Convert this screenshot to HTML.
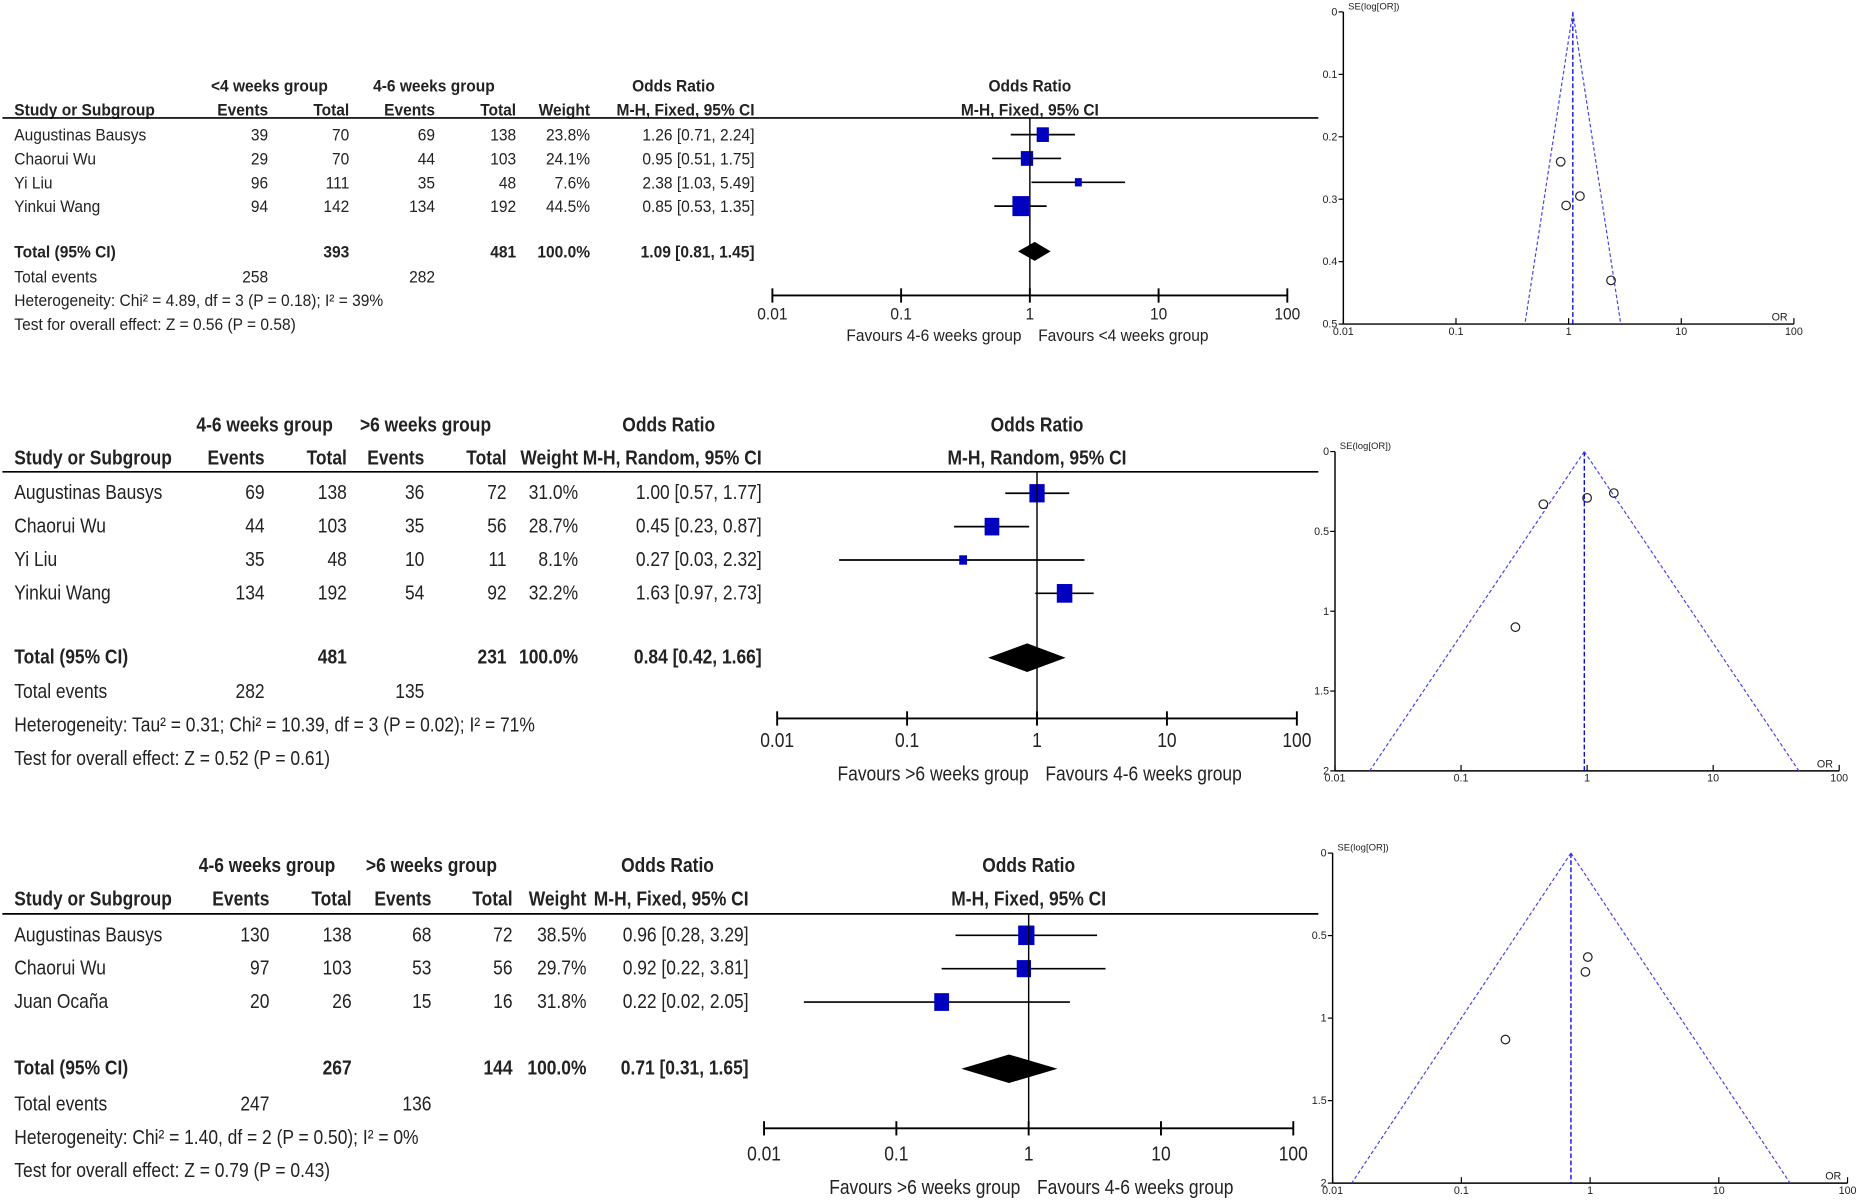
<!DOCTYPE html>
<html><head><meta charset="utf-8"><style>
html,body{margin:0;padding:0;background:#fff;}
svg{display:block;}
text{font-family:"Liberation Sans Narrow","Liberation Sans",sans-serif;fill:#222;}
</style></head><body>
<svg id="fig" width="1869" height="1201" viewBox="0 0 1568 1008" preserveAspectRatio="none" xmlns="http://www.w3.org/2000/svg"></svg>
<script>
// ---- Panel 1 data ----
const p1Studies=["Augustinas Bausys","Chaorui Wu","Yi Liu","Yinkui Wang"];
const p1Ev1=[39,29,96,94];
const p1Tot1=[70,70,111,142];
const p1Ev2=[69,44,35,134];
const p1Tot2=[138,103,48,192];
const p1Weight=[23.8,24.1,7.6,44.5];
const p1OR=[1.26,0.95,2.38,0.85];
const p1Lo=[0.71,0.51,1.03,0.53];
const p1Hi=[2.24,1.75,5.49,1.35];
const p1TotalCI=[1.09,0.81,1.45];
const p1Totals=[393,481];
const p1Events=[258,282];
const p1SE=[0.295,0.31,0.43,0.24];
// ---- Panel 2 data ----
const p2Studies=["Augustinas Bausys","Chaorui Wu","Yi Liu","Yinkui Wang"];
const p2Ev1=[69,44,35,134];
const p2Tot1=[138,103,48,192];
const p2Ev2=[36,35,10,54];
const p2Tot2=[72,56,11,92];
const p2Weight=[31.0,28.7,8.1,32.2];
const p2OR=[1.00,0.45,0.27,1.63];
const p2Lo=[0.57,0.23,0.03,0.97];
const p2Hi=[1.77,0.87,2.32,2.73];
const p2TotalCI=[0.84,0.42,1.66];
const p2Totals=[481,231];
const p2Events=[282,135];
const p2SE=[0.29,0.33,1.1,0.26];
// ---- Panel 3 data ----
const p3Studies=["Augustinas Bausys","Chaorui Wu","Juan Ocaña"];
const p3Ev1=[130,97,20];
const p3Tot1=[138,103,26];
const p3Ev2=[68,53,15];
const p3Tot2=[72,56,16];
const p3Weight=[38.5,29.7,31.8];
const p3OR=[0.96,0.92,0.22];
const p3Lo=[0.28,0.22,0.02];
const p3Hi=[3.29,3.81,2.05];
const p3TotalCI=[0.71,0.31,1.65];
const p3Totals=[267,144];
const p3Events=[247,136];
const p3SE=[0.63,0.72,1.13];
const orTicks=["0.01","0.1","1","10","100"];
const funnelCenters=[1.09,0.95,0.71];
const se1Ticks=[0,0.1,0.2,0.3,0.4,0.5];
const se2Ticks=[0,0.5,1,1.5,2];

const NS="http://www.w3.org/2000/svg";
const svg=document.getElementById('fig');
function el(tag,attrs,parent){const e=document.createElementNS(NS,tag);for(const k in attrs)e.setAttribute(k,attrs[k]);(parent||svg).appendChild(e);return e;}
function txt(s,x,y,size,anchor,weight,parent,sx){
  const t=el('text',{x:0,y:0,'font-size':size,'text-anchor':anchor||'start','font-weight':weight||'normal',
    transform:`translate(${x},${y}) scale(${sx||1},1)`},parent);
  t.textContent=s;return t;}

function panel(cfg,d){
  const g=el('g',{});
  
  
  const fs=cfg.fs, c=cfg.cols, sx=cfg.sx;
  const T=(s,x,y,a,w,p)=>txt(s,x,y,fs,a,w,p||g,sx);
  const h1=T(cfg.g1,c.g1,cfg.yG,'middle','bold');
  
  const h2=T(cfg.g2,c.g2,cfg.yG,'middle','bold');
  
  T('Odds Ratio',c.orh,cfg.yG,'middle','bold');
  T('Odds Ratio',cfg.fx(1),cfg.yG,'middle','bold');
  T('Study or Subgroup',12,cfg.yH,'start','bold');
  T('Events',c.e1,cfg.yH,'end','bold');
  T('Total',c.t1,cfg.yH,'end','bold');
  T('Events',c.e2,cfg.yH,'end','bold');
  T('Total',c.t2,cfg.yH,'end','bold');
  T('Weight',c.w,cfg.yH,'end','bold');
  T(cfg.method,c.ci,cfg.yH,'end','bold');
  T(cfg.method,cfg.fx(1),cfg.yH,'middle','bold');
  const hl=el('line',{x1:2,x2:1106,y1:cfg.yLine,y2:cfg.yLine,stroke:'#000','stroke-width':1.4},g);
  
  const f2=v=>v.toFixed(2);
  d.studies.forEach((s,i)=>{
    const y=cfg.yRow0+i*cfg.dRow;
    const r=el('g',{},g);
    
    
    T(s,12,y,'start','normal',r);
    T(String(d.ev1[i]),c.e1,y,'end','normal',r);
    T(String(d.tot1[i]),c.t1,y,'end','normal',r);
    T(String(d.ev2[i]),c.e2,y,'end','normal',r);
    T(String(d.tot2[i]),c.t2,y,'end','normal',r);
    T(d.w[i].toFixed(1)+'%',c.w,y,'end','normal',r);
    T(f2(d.or[i])+' ['+f2(d.lo[i])+', '+f2(d.hi[i])+']',c.ci,y,'end','normal',r);
    const my=y-5;
    const ci=el('line',{x1:cfg.fx(d.lo[i]),x2:cfg.fx(d.hi[i]),y1:my,y2:my,stroke:'#000','stroke-width':1.4},g);
    
    const sz=Math.sqrt(d.w[i])*cfg.sq;
    const sq=el('rect',{x:cfg.fx(d.or[i])-sz/2,y:my-sz*0.6,width:sz,height:sz*1.2,fill:'#0000c0'},g);
    
  });
  const yt=cfg.yTot;
  T('Total (95% CI)',12,yt,'start','bold');
  T(String(d.totals[0]),c.t1,yt,'end','bold');
  T(String(d.totals[1]),c.t2,yt,'end','bold');
  T('100.0%',c.w,yt,'end','bold');
  T(f2(d.tci[0])+' ['+f2(d.tci[1])+', '+f2(d.tci[2])+']',c.ci,yt,'end','bold');
  const dy=yt-5, hh=cfg.dh;
  const dm=el('polygon',{points:`${cfg.fx(d.tci[1])},${dy} ${cfg.fx(d.tci[0])},${dy-hh} ${cfg.fx(d.tci[2])},${dy} ${cfg.fx(d.tci[0])},${dy+hh}`,fill:'#000'},g);
  
  T('Total events',12,cfg.yEv,'start','normal');
  T(String(d.events[0]),c.e1,cfg.yEv,'end','normal');
  T(String(d.events[1]),c.e2,cfg.yEv,'end','normal');
  T(cfg.het,12,cfg.yEv+cfg.dFoot,'start','normal');
  T(cfg.test,12,cfg.yEv+2*cfg.dFoot,'start','normal');
  const vl=el('line',{x1:cfg.fx(1),x2:cfg.fx(1),y1:cfg.yLine,y2:cfg.yAx,stroke:'#000','stroke-width':1.2},g);
  
  const ax=el('line',{x1:cfg.fx(0.01),x2:cfg.fx(100),y1:cfg.yAx,y2:cfg.yAx,stroke:'#000','stroke-width':1.6},g);
  
  orTicks.forEach(t=>{const x=cfg.fx(parseFloat(t));
    el('line',{x1:x,x2:x,y1:cfg.yAx-6,y2:cfg.yAx+6,stroke:'#000','stroke-width':1.6},g);
    T(t,x,cfg.yAx+cfg.dLab,'middle','normal');});
  T(cfg.favL,cfg.fx(1)-7,cfg.yFav,'end','normal').setAttribute('fill','#555');
  T(cfg.favR,cfg.fx(1)+7,cfg.yFav,'start','normal').setAttribute('fill','#555');
}

function funnel(cfg,or,se,center){
  const g=el('g',{});
  
  
  const lx=v=>cfg.x0+(Math.log10(v)+2)*(cfg.x1-cfg.x0)/4;
  const ly=v=>cfg.y0+v*(cfg.y1-cfg.y0)/cfg.max;
  const ya=el('line',{x1:cfg.x0,x2:cfg.x0,y1:cfg.y0,y2:cfg.y1,stroke:'#000','stroke-width':1.2},g);
  
  const xa=el('line',{x1:cfg.x0,x2:cfg.x1,y1:cfg.y1,y2:cfg.y1,stroke:'#000','stroke-width':1.2},g);
  
  cfg.ticks.forEach(t=>{const y=ly(t);el('line',{x1:cfg.x0-4,x2:cfg.x0,y1:y,y2:y,stroke:'#000'},g);
    txt(String(t),cfg.x0-5,y+3,9,'end','normal',g);});
  orTicks.forEach(t=>{const x=lx(parseFloat(t));el('line',{x1:x,x2:x,y1:cfg.y1-5,y2:cfg.y1,stroke:'#000'},g);
    txt(t,x,cfg.y1+9,9,'middle','normal',g);});
  txt('SE(log[OR])',cfg.x0+4,cfg.y0-2,8,'start','normal',g);
  txt('OR',cfg.x1-12,cfg.y1-3,9,'middle','normal',g);
  const cx=lx(center);
  const cl=el('line',{x1:cx,x2:cx,y1:cfg.y0,y2:cfg.y1,stroke:'#0000dd','stroke-width':1.1,'stroke-dasharray':'4,2'},g);
  
  const m=cfg.max;
  [-1,1].forEach(s=>{const l=el('line',{x1:cx,y1:cfg.y0,x2:lx(center*Math.exp(s*1.96*m)),y2:cfg.y1,stroke:'#4444ee','stroke-width':1,'stroke-dasharray':'3,2'},g);
    });
  or.forEach((v,i)=>{const c=el('circle',{cx:lx(v),cy:ly(se[i]),r:3.6,fill:'none',stroke:'#222','stroke-width':1},g);
    });
}

function fxMaker(a,b){return v=>a+(Math.log10(v)+2)*(b-a)/4;}

panel({name:'forest-panel-1',fs:14,sx:0.93,g1:'<4 weeks group',g2:'4-6 weeks group',method:'M-H, Fixed, 95% CI',
  cols:{g1:226,g2:364,orh:565,e1:225,t1:293,e2:365,t2:433,w:495,ci:633},
  yG:77,yH:97,yLine:99,yRow0:118,dRow:20,yTot:216,dh:8,yEv:237,dFoot:20,sq:2.1,
  fx:fxMaker(648,1080),yAx:248,dLab:20,yFav:286,
  het:'Heterogeneity: Chi² = 4.89, df = 3 (P = 0.18); I² = 39%',test:'Test for overall effect: Z = 0.56 (P = 0.58)',
  favL:'Favours 4-6 weeks group',favR:'Favours <4 weeks group'},
  {studies:p1Studies,ev1:p1Ev1,tot1:p1Tot1,ev2:p1Ev2,tot2:p1Tot2,w:p1Weight,or:p1OR,lo:p1Lo,hi:p1Hi,tci:p1TotalCI,totals:p1Totals,events:p1Events});

panel({name:'forest-panel-2',fs:17,sx:0.86,g1:'4-6 weeks group',g2:'>6 weeks group',method:'M-H, Random, 95% CI',
  cols:{g1:222,g2:357,orh:561,e1:222,t1:291,e2:356,t2:425,w:485,ci:639},
  yG:362,yH:390,yLine:396,yRow0:419,dRow:28,yTot:557,dh:12,yEv:586,dFoot:28,sq:2.3,
  fx:fxMaker(652,1088),yAx:603,dLab:24,yFav:655,
  het:'Heterogeneity: Tau² = 0.31; Chi² = 10.39, df = 3 (P = 0.02); I² = 71%',test:'Test for overall effect: Z = 0.52 (P = 0.61)',
  favL:'Favours >6 weeks group',favR:'Favours 4-6 weeks group'},
  {studies:p2Studies,ev1:p2Ev1,tot1:p2Tot1,ev2:p2Ev2,tot2:p2Tot2,w:p2Weight,or:p2OR,lo:p2Lo,hi:p2Hi,tci:p2TotalCI,totals:p2Totals,events:p2Events});

panel({name:'forest-panel-3',fs:17,sx:0.86,g1:'4-6 weeks group',g2:'>6 weeks group',method:'M-H, Fixed, 95% CI',
  cols:{g1:224,g2:362,orh:560,e1:226,t1:295,e2:362,t2:430,w:492,ci:628},
  yG:732,yH:760,yLine:767,yRow0:790,dRow:28,yTot:902,dh:12,yEv:932,dFoot:28,sq:2.2,
  fx:fxMaker(641,1085),yAx:947,dLab:27,yFav:1002,
  het:'Heterogeneity: Chi² = 1.40, df = 2 (P = 0.50); I² = 0%',test:'Test for overall effect: Z = 0.79 (P = 0.43)',
  favL:'Favours >6 weeks group',favR:'Favours 4-6 weeks group'},
  {studies:p3Studies,ev1:p3Ev1,tot1:p3Tot1,ev2:p3Ev2,tot2:p3Tot2,w:p3Weight,or:p3OR,lo:p3Lo,hi:p3Hi,tci:p3TotalCI,totals:p3Totals,events:p3Events});

funnel({name:'funnel-plot-1',x0:1127,x1:1505,y0:10,y1:272,max:0.5,ticks:se1Ticks},p1OR,p1SE,funnelCenters[0]);
funnel({name:'funnel-plot-2',x0:1120,x1:1543,y0:379,y1:647,max:2,ticks:se2Ticks},p2OR,p2SE,funnelCenters[1]);
funnel({name:'funnel-plot-3',x0:1118,x1:1550,y0:716,y1:993,max:2,ticks:se2Ticks},p3OR,p3SE,funnelCenters[2]);
</script>
</body></html>
